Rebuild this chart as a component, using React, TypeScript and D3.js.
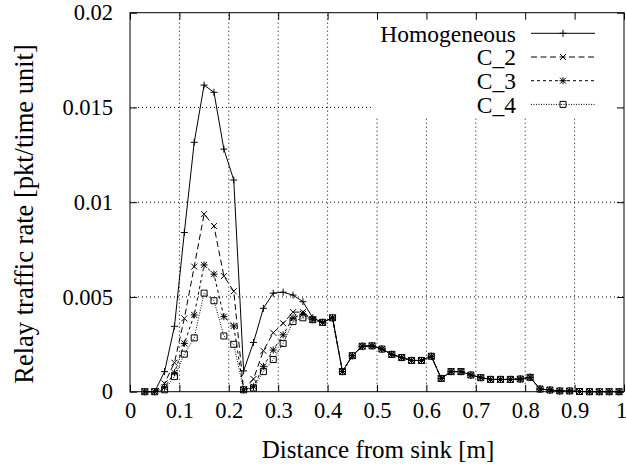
import React, { useEffect, useRef } from "react";
import * as d3 from "d3";

// distance bins along x [m]
const distance = [
  0.03, 0.05, 0.07, 0.09, 0.11, 0.13, 0.15, 0.17, 0.19, 0.21,
  0.23, 0.25, 0.27, 0.29, 0.31, 0.33, 0.35, 0.37, 0.39, 0.41,
  0.43, 0.45, 0.47, 0.49, 0.51, 0.53, 0.55, 0.57, 0.59, 0.61,
  0.63, 0.65, 0.67, 0.69, 0.71, 0.73, 0.75, 0.77, 0.79, 0.81,
  0.83, 0.85, 0.87, 0.89, 0.91, 0.93, 0.95, 0.97, 0.99,
];

// from 0.43 m on, all four curves lie on top of each other
const sharedTail = [
  0.00106, 0.0019, 0.0024, 0.00242, 0.00225, 0.00197, 0.0018, 0.00165, 0.00165, 0.00187,
  0.0007, 0.00106, 0.00106, 0.00088, 0.00074, 0.00065, 0.00065, 0.00065, 0.00067, 0.00076,
  0.00014, 0.00009, 0.00004, 0.00004, 0.00001, 0, 0, 0, 0,
];

const homogeneous = [
  0, 0, 0.00106, 0.00345, 0.0084, 0.01316, 0.01618, 0.0158, 0.0128, 0.01117,
  0.0011, 0.0026, 0.0044, 0.0052, 0.00525, 0.0051, 0.00475, 0.0039, 0.00366, 0.0039,
  ...sharedTail,
];
const c2 = [
  0, 0, 0.00044, 0.00153, 0.00387, 0.0066, 0.00937, 0.00874, 0.0061, 0.0053,
  0.0001, 0.00067, 0.00216, 0.00311, 0.00361, 0.0042, 0.0042, 0.0038, 0.00366, 0.0039,
  ...sharedTail,
];
const c3 = [
  0, 0, 0.00023, 0.001, 0.00255, 0.00405, 0.00669, 0.0062, 0.00396, 0.00347,
  0.0001, 0.00026, 0.00134, 0.0022, 0.003, 0.0039, 0.0041, 0.0038, 0.00366, 0.0039,
  ...sharedTail,
];
const c4 = [
  0, 0, 0.0001, 0.0008, 0.00198, 0.00284, 0.0052, 0.0048, 0.00294, 0.0025,
  0.0001, 0.0002, 0.00106, 0.0017, 0.00255, 0.0037, 0.0039, 0.0038, 0.00366, 0.0039,
  ...sharedTail,
];

const seriesNames = ["Homogeneous", "C_2", "C_3", "C_4"];
const xTicks = [0, 0.1, 0.2, 0.3, 0.4, 0.5, 0.6, 0.7, 0.8, 0.9, 1];
const xTickLabels = ["0", "0.1", "0.2", "0.3", "0.4", "0.5", "0.6", "0.7", "0.8", "0.9", "1"];
const yTicks = [0, 0.005, 0.01, 0.015, 0.02];
const yTickLabels = ["0", "0.005", "0.01", "0.015", "0.02"];

const FONT = "'Liberation Serif', 'Times New Roman', Times, serif";

function markerPath(type: string, x: number, y: number) {
  const s = 3.5;
  const d = 3;
  const plus = `M${x - s},${y}H${x + s}M${x},${y - s}V${y + s}`;
  const cross = `M${x - d},${y - d}L${x + d},${y + d}M${x - d},${y + d}L${x + d},${y - d}`;
  if (type === "plus") return plus;
  if (type === "cross") return cross;
  if (type === "star") return plus + cross;
  return `M${x - 3},${y - 3}h6v6h-6Z`;
}

export default function App() {
  const svgRef = useRef<SVGSVGElement>(null);

  useEffect(() => {
    const svg = d3.select(svgRef.current);
    svg.selectAll("*").remove();

    const width = 626;
    const height = 466;
    const margin = { top: 12.7, right: 2, bottom: 74.3, left: 130 };
    const plotRight = width - margin.right;
    const plotBottom = height - margin.bottom;

    const x = d3.scaleLinear().domain([0, 1]).range([margin.left, plotRight]);
    const y = d3.scaleLinear().domain([0, 0.02]).range([plotBottom, margin.top]);

    const series = [
      { name: seriesNames[0], values: homogeneous, dash: null, marker: "plus" },
      { name: seriesNames[1], values: c2, dash: "6,3.5", marker: "cross" },
      { name: seriesNames[2], values: c3, dash: "3,3", marker: "star" },
      { name: seriesNames[3], values: c4, dash: "1,1.5", marker: "box" },
    ];

    // grid
    const grid = svg.append("g").attr("stroke", "#000").attr("stroke-width", 1).attr("stroke-dasharray", "1,3");
    xTicks.slice(1, -1).forEach((t) => {
      grid.append("line").attr("x1", x(t)).attr("x2", x(t)).attr("y1", plotBottom).attr("y2", margin.top);
    });
    yTicks.slice(1, -1).forEach((t) => {
      grid.append("line").attr("x1", margin.left).attr("x2", plotRight).attr("y1", y(t)).attr("y2", y(t));
    });

    // opaque key area
    const keyLeft = 372;
    const keyBottom = 117;
    svg.append("rect")
      .attr("x", keyLeft)
      .attr("y", margin.top)
      .attr("width", plotRight - keyLeft)
      .attr("height", keyBottom - margin.top)
      .attr("fill", "white");

    // series
    const line = d3.line<number>()
      .x((_, i) => x(distance[i]))
      .y((d) => y(d));

    series.forEach((s) => {
      svg.append("path")
        .datum(s.values)
        .attr("fill", "none")
        .attr("stroke", "black")
        .attr("stroke-width", 1)
        .attr("stroke-dasharray", s.dash)
        .attr("d", line);
      svg.append("path")
        .attr("fill", "none")
        .attr("stroke", "black")
        .attr("stroke-width", 1)
        .attr("d", s.values.map((v, i) => markerPath(s.marker, x(distance[i]), y(v))).join(""));
    });

    // axes, ticks pointing inward on all four sides
    const styleAxis = (g: any) => {
      g.select(".domain").remove();
      g.selectAll("line").attr("stroke", "black");
      g.selectAll("text").attr("font-family", FONT).attr("font-size", 22.5).attr("fill", "black");
    };

    const bottomAxis = svg.append("g")
      .attr("transform", `translate(0,${plotBottom})`)
      .call(d3.axisBottom(x).tickValues(xTicks).tickFormat((_, i) => xTickLabels[i]).tickSize(-7).tickPadding(10))
      .call(styleAxis);
    // keep the last label inside the picture
    bottomAxis.selectAll("text").filter((_, i) => i === xTicks.length - 1).attr("dx", -3);

    svg.append("g")
      .attr("transform", `translate(0,${margin.top})`)
      .call(d3.axisTop(x).tickValues(xTicks).tickFormat(() => "").tickSize(-7))
      .call(styleAxis);
    svg.append("g")
      .attr("transform", `translate(${margin.left},0)`)
      .call(d3.axisLeft(y).tickValues(yTicks).tickFormat((_, i) => yTickLabels[i]).tickSize(-7).tickPadding(17))
      .call(styleAxis);
    svg.append("g")
      .attr("transform", `translate(${plotRight},0)`)
      .call(d3.axisRight(y).tickValues(yTicks).tickFormat(() => "").tickSize(-7))
      .call(styleAxis);

    svg.append("rect")
      .attr("x", margin.left)
      .attr("y", margin.top)
      .attr("width", plotRight - margin.left)
      .attr("height", plotBottom - margin.top)
      .attr("fill", "none")
      .attr("stroke", "black")
      .attr("stroke-width", 1);

    // axis titles
    svg.append("text")
      .attr("x", 378)
      .attr("y", 458)
      .attr("text-anchor", "middle")
      .attr("font-family", FONT)
      .attr("font-size", 25)
      .text("Distance from sink [m]");
    svg.append("text")
      .attr("transform", `translate(33,214) rotate(-90)`)
      .attr("text-anchor", "middle")
      .attr("font-family", FONT)
      .attr("font-size", 26.5)
      .text("Relay traffic rate [pkt/time unit]");

    // key
    series.forEach((s, i) => {
      const cy = 33.3 + i * 23.7;
      svg.append("text")
        .attr("x", 516)
        .attr("y", cy)
        .attr("dy", "0.35em")
        .attr("text-anchor", "end")
        .attr("font-family", FONT)
        .attr("font-size", 23.5)
        .text(s.name);
      svg.append("line")
        .attr("x1", 531)
        .attr("x2", 595)
        .attr("y1", cy)
        .attr("y2", cy)
        .attr("stroke", "black")
        .attr("stroke-width", 1)
        .attr("stroke-dasharray", s.dash);
      svg.append("path")
        .attr("fill", "none")
        .attr("stroke", "black")
        .attr("d", markerPath(s.marker, 563, cy));
    });
  }, []);

  return (
    <svg
      ref={svgRef}
      width={626}
      height={466}
      style={{ position: "absolute", left: 0, top: 0, background: "white" }}
    />
  );
}
